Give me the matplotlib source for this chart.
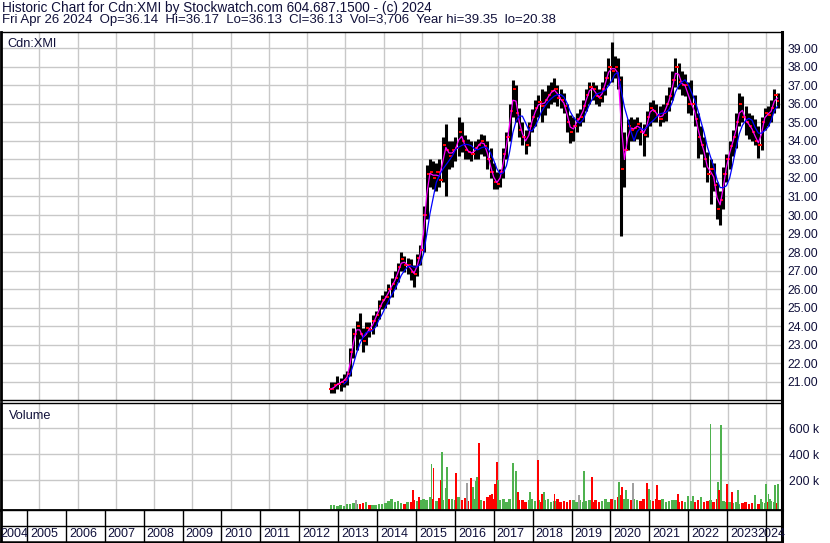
import numpy as np
import pandas as pd
import matplotlib
matplotlib.use('Agg')
import matplotlib.pyplot as plt

plt.rcParams['font.family'] = ['Liberation Sans', 'DejaVu Sans']

# monthly OHLC, Aug 2012 .. Apr 2024
months = pd.date_range('2012-08-01', periods=141, freq='MS')
highs = [
    21.0, 21.0, 21.3, 21.2, 21.4,
    21.6, 22.8, 23.9, 24.3, 24.7, 23.9, 24.2, 24.2, 24.6, 24.8, 25.4, 25.7,
    25.9, 26.3, 26.6, 27.0, 27.4, 28.0, 27.8, 27.7, 27.6, 27.3, 27.9, 28.4,
    30.5, 32.7, 33.0, 32.9, 32.8, 33.0, 34.2, 34.9, 34.0, 34.0, 34.2, 35.3,
    35.0, 34.3, 34.1, 34.0, 34.0, 34.1, 34.4, 34.3, 34.0, 33.6, 32.8, 32.3,
    32.5, 33.6, 34.5, 36.0, 37.3, 37.0, 35.8, 35.0, 34.6, 35.0, 35.7, 36.2,
    36.5, 36.8, 36.7, 37.0, 37.2, 37.4, 37.0, 36.8, 36.6, 36.0, 35.4, 35.3,
    35.5, 35.7, 36.2, 36.8, 37.2, 37.2, 37.0, 36.8, 37.2, 37.8, 38.5, 39.35,
    38.6, 38.5, 37.5, 34.5, 35.2, 35.3, 35.2, 35.3, 35.0, 34.9, 35.6, 36.1,
    36.2, 36.0, 35.9, 36.0, 36.5, 36.9, 37.8, 38.5, 38.2, 37.8, 37.6, 37.2,
    37.3, 36.5, 35.5, 34.8, 34.2, 33.4, 33.0, 32.8, 31.8, 31.3, 32.6, 33.3,
    34.0, 34.6, 35.5, 36.6, 36.4, 35.9, 35.5, 35.4, 35.2, 34.8, 35.3, 35.8,
    35.9, 36.2, 36.8, 36.6,
]
lows = [
    20.4, 20.4, 20.6, 20.5, 20.7,
    20.8, 21.3, 22.3, 22.7, 23.3, 22.6, 23.0, 23.4, 23.6, 24.0, 24.4, 24.9,
    25.0, 25.2, 25.6, 26.0, 26.4, 27.0, 26.9, 26.8, 26.5, 26.1, 26.7, 27.3,
    28.0, 29.8, 31.5, 31.4, 31.3, 31.5, 31.8, 31.0, 32.5, 32.6, 32.9, 33.2,
    33.4, 33.0, 33.0, 32.9, 33.0, 33.0, 33.3, 33.2, 32.5, 32.0, 31.4, 31.4,
    31.5, 32.0, 33.0, 34.0, 35.3, 35.0, 34.2, 33.8, 33.3, 33.7, 34.5, 34.8,
    35.3, 35.0, 35.4, 35.8, 36.0, 36.1, 35.9, 35.8, 35.5, 34.5, 33.9, 34.0,
    34.5, 34.8, 35.0, 35.6, 36.0, 36.2, 36.0, 35.9, 36.1, 36.5, 37.0, 37.2,
    37.4, 36.8, 28.85, 31.5, 33.5, 34.0, 34.0, 34.1, 33.8, 33.2, 34.2, 34.8,
    35.0, 35.0, 34.8, 35.0, 35.1, 35.6, 36.2, 36.9, 36.8, 36.5, 36.4, 35.5,
    35.4, 34.8, 33.1, 33.3, 32.6, 31.8, 30.6, 31.3, 29.8, 29.45, 30.3, 31.8,
    32.5, 33.2, 33.6, 34.8, 35.0, 34.3, 34.1, 34.0, 33.8, 33.1, 33.5, 34.6,
    34.8, 35.0, 35.5, 35.8,
]
closes = [
    20.6, 20.8, 20.9, 21.0, 21.1,
    21.4, 22.6, 23.6, 24.0, 23.6, 23.2, 23.9, 23.8, 24.3, 24.6, 25.1, 25.4,
    25.6, 26.0, 26.3, 26.6, 27.2, 27.6, 27.3, 27.3, 26.9, 26.8, 27.7, 28.1,
    30.0, 32.2, 32.3, 32.0, 32.3, 31.9, 33.8, 33.5, 33.2, 33.5, 33.6, 34.5,
    34.0, 33.5, 33.4, 33.3, 33.6, 33.8, 34.0, 33.7, 33.0, 32.3, 31.8, 31.7,
    32.3, 33.3, 34.2, 35.6, 36.8, 35.5, 34.6, 34.2, 33.8, 34.8, 35.3, 35.8,
    36.1, 35.9, 36.2, 36.5, 36.7, 36.8, 36.3, 36.2, 35.9, 35.0, 34.5, 34.8,
    35.2, 35.3, 35.9, 36.5, 36.9, 36.8, 36.4, 36.3, 36.8, 37.4, 38.0, 37.8,
    38.0, 37.3, 32.5, 33.5, 34.8, 34.6, 34.7, 34.9, 34.5, 34.3, 35.3, 35.8,
    35.6, 35.4, 35.2, 35.5, 36.0, 36.4, 37.3, 38.0, 37.2, 37.0, 37.0, 36.0,
    36.0, 35.2, 34.2, 33.8, 33.0, 32.2, 32.5, 31.6, 30.3, 30.8, 32.2, 33.0,
    33.7, 34.2, 35.0, 36.0, 35.3, 35.0, 34.8, 34.5, 34.0, 33.8, 35.0, 35.5,
    35.4, 35.8, 36.5, 36.13,
]

# monthly background volume (thousands)
vol_base = [
    8, 12, 5, 10, 6,
    20, 15, 25, 18, 18, 22, 30, 12, 10, 8, 15, 18,
    22, 41, 56, 30, 41, 25, 20, 35, 30, 45, 41, 50,
    60, 45, 70, 55, 40, 65, 50, 80, 55, 60, 45, 70,
    50, 65, 40, 75, 55, 60, 45, 40, 70, 85, 60, 50,
    45, 60, 35, 55, 70, 40, 50, 45, 30, 45, 55, 40,
    50, 35, 45, 60, 30, 40, 55, 35, 40, 30, 50, 45,
    35, 45, 30, 40, 50, 35, 45, 30, 40, 55, 35, 60,
    50, 70, 90, 60, 55, 45, 60, 50, 40, 55, 65, 45,
    40, 55, 45, 60, 35, 40, 50, 45, 30, 40, 35, 45,
    40, 30, 45, 35, 30, 40, 45, 35, 60, 50, 40, 30,
    35, 25, 30, 20, 25, 30, 20, 25, 30, 20, 35, 25,
    30, 40, 35, 25,
]

# single-day volume spikes: date (decimal year), thousands, colour code
spike_t = [2013.27, 2014.776, 2014.931, 2015.249, 2015.301, 2015.488, 2015.532,
           2015.635, 2015.661, 2015.892, 2016.175, 2016.278, 2016.329, 2016.414,
           2016.447, 2016.483, 2016.833, 2016.902, 2016.961, 2016.979, 2017.391,
           2017.460, 2017.501, 2017.820, 2018.041, 2018.144, 2018.188, 2018.463,
           2019.113, 2019.234, 2019.447, 2020.159, 2020.226, 2020.329, 2020.519,
           2020.887, 2020.931, 2021.144, 2021.702, 2021.959, 2022.087, 2022.301,
           2022.540, 2022.730, 2022.771, 2022.815, 2022.961, 2023.090, 2023.116,
           2023.260, 2023.697, 2023.861, 2023.997, 2024.057, 2024.100, 2024.229,
           2024.298]
spike_v = [48, 125, 74, 325, 292, 202, 420,
           140, 305, 256, 177, 215, 148, 195,
           228, 485, 95, 170, 343, 202, 331,
           272, 112, 112, 356, 92, 112, 92,
           87, 272, 228, 185, 151, 125, 180,
           177, 131, 164, 95, 79, 79, 74,
           633, 185, 125, 625, 169, 112, 109,
           123, 87, 54, 169, 97, 58, 164,
           172]
spike_c = ['n', 'r', 'r', 'g', 'r', 'r', 'g',
           'g', 'g', 'r', 'n', 'r', 'g', 'g',
           'g', 'r', 'r', 'r', 'r', 'g', 'g',
           'g', 'r', 'g', 'r', 'r', 'g', 'r',
           'n', 'g', 'r', 'g', 'r', 'g', 'n',
           'r', 'g', 'r', 'r', 'g', 'g', 'g',
           'g', 'g', 'r', 'g', 'r', 'r', 'r',
           'g', 'g', 'g', 'g', 'g', 'g', 'g',
           'g']

years = list(range(2004, 2025))
price_ticks = list(range(21, 40))
vol_ticks = [200000, 400000, 600000]

GREEN, RED, GREY = '#4fb24f', '#ff0000', '#a0a0a0'
GRID = '#c8c8c8'
LBL = '#10103a'

t = months.year + (months.month - 0.5) / 12.0
H = np.array(highs); L = np.array(lows); C = np.array(closes)
O = np.r_[C[0], C[:-1]]
cs = pd.Series(C)
ma_fast = cs.rolling(2, min_periods=1).mean()
ma_slow = cs.rolling(5, min_periods=5).mean()

W, Hpx = 830, 543
def fy(y):
    return 1 - y / Hpx

x0, x1 = 1 / W, 782 / W
XL = (2004.332, 2024.409)

fig = plt.figure(figsize=(8.3, 5.43), dpi=100)
fig.patch.set_facecolor('white')

fig.text(2 / W, fy(8), 'Historic Chart for Cdn:XMI by Stockwatch.com 604.687.1500 - (c) 2024',
         fontsize=9.8, va='center', ha='left', color=LBL)
fig.text(2 / W, fy(20), 'Fri Apr 26 2024  Op=36.14  Hi=36.17  Lo=36.13  Cl=36.13  Vol=3,706  Year hi=39.35  lo=20.38',
         fontsize=9.5, va='center', ha='left', color=LBL)

# price panel
axp = fig.add_axes([x0, fy(400), x1 - x0, fy(32) - fy(400)])
axp.set_xlim(*XL)
axp.set_ylim(20.012, 39.882)
axp.set_xticks(years)
axp.set_yticks(price_ticks)
axp.grid(True, color=GRID, lw=1)
axp.set_axisbelow(True)
axp.vlines(t, L, H, color='black', lw=2.2)
axp.plot(t - 0.025, O, ls='none', marker='s', ms=1.8, color=RED, mew=0)
axp.plot(t + 0.025, C, ls='none', marker='s', ms=1.8, color=RED, mew=0)
axp.plot(t, ma_fast, color='#ff00ff', lw=0.9)
axp.plot(t, ma_slow, color='#0000ff', lw=0.9)
axp.yaxis.tick_right()
axp.set_yticklabels([f'{v:.2f}' for v in price_ticks], fontsize=8.8, color=LBL)
axp.tick_params(axis='y', length=0, pad=4)
axp.tick_params(axis='x', length=0, labelbottom=False)
axp.text(0.008, 0.985, 'Cdn:XMI', transform=axp.transAxes, fontsize=9.2, va='top', color=LBL)

# volume panel
vb = -24600
axv = fig.add_axes([x0, fy(509.5), x1 - x0, fy(403) - fy(509.5)])
axv.set_xlim(*XL)
axv.set_ylim(vb, 794600)
axv.set_xticks(years)
axv.set_yticks(vol_ticks)
axv.grid(True, color=GRID, lw=1)
axv.set_axisbelow(True)
base_cols = [GREEN if c >= o else RED for c, o in zip(C, O)]
bv = np.array(vol_base) * 1000.0
axv.bar(t, bv - vb, bottom=vb, width=0.065, color=base_cols, lw=0)
cmap = {'g': GREEN, 'r': RED, 'n': GREY}
sv = np.array(spike_v) * 1000.0
axv.bar(spike_t, sv - vb, bottom=vb, width=0.05, color=[cmap[c] for c in spike_c], lw=0)
axv.yaxis.tick_right()
axv.set_yticklabels([f'{v // 1000} k' for v in vol_ticks], fontsize=8.8, color=LBL)
axv.tick_params(axis='y', length=0, pad=5)
axv.tick_params(axis='x', length=0, labelbottom=False)
axv.text(0.01, 0.93, 'Volume', transform=axv.transAxes, fontsize=9.2, va='top', color=LBL)

# year band
axb = fig.add_axes([x0, fy(541.5), x1 - x0, fy(509.5) - fy(541.5)])
axb.set_xlim(*XL)
axb.set_ylim(0, 1)
axb.set_xticks([]); axb.set_yticks([])
axb.vlines(years, 0, 1, color='black', lw=1)
axb.axhline((541.5 - 526) / 32.0, color='black', lw=1)
pxyr = 38.9
for y in years:
    xs = y + 3 / pxyr
    ha = 'left'
    if y == 2004:
        xs = XL[0] - 1 / pxyr
    if y == 2024:
        xs = XL[1] + 3 / pxyr
        ha = 'right'
    axb.text(xs, 0.24, str(y), fontsize=9, ha=ha, va='center', color=LBL, clip_on=False)

for ax in (axp, axv, axb):
    for s in ax.spines.values():
        s.set_color('black')
        s.set_linewidth(1)
    ax.spines['left'].set_linewidth(2)
    ax.spines['right'].set_linewidth(2.2)
axv.spines['bottom'].set_linewidth(2)
axb.spines['bottom'].set_linewidth(1.8)

fig.savefig('out.png', dpi=100, facecolor='white')
